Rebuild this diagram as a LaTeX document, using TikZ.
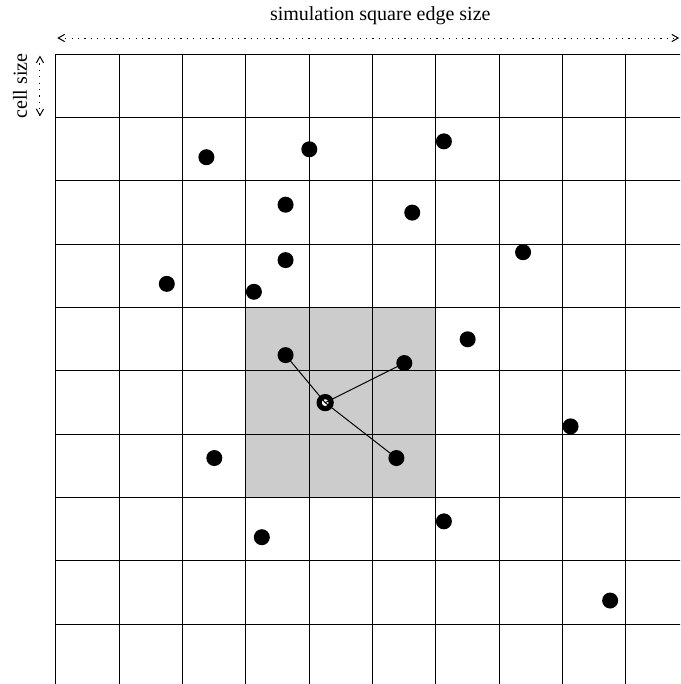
\documentclass[tikz,border=0pt]{standalone}
\usepackage{fontspec}
\setmainfont{Liberation Serif}
\usetikzlibrary{arrows.meta}
\definecolor{cellgray}{HTML}{CCCCCC}
\tikzset{
  particle/.style={circle,fill=black,inner sep=0pt,minimum size=8pt},
  probe/.style={circle,draw=black,line width=2.6pt,fill=white,inner sep=0pt,minimum size=6pt},
  dimline/.style={line width=0.5pt,dash pattern=on 0.6pt off 2.6pt,
    {Straight Barb[length=3.2pt,width=3.6pt]}-{Straight Barb[length=3.2pt,width=3.6pt]}},
  bond/.style={line width=0.5pt}
}
\begin{document}
\begin{tikzpicture}[x=31.667pt,y=-31.667pt]
\clip (-0.884,-0.857) rectangle (9.853,9.943);
% neighbourhood of the probe cell
\fill[cellgray] (3,4) rectangle (6,7);
\foreach \i in {0,...,10}{
  \draw[line width=0.5pt] (\i,0) -- (\i,10);
  \draw[line width=0.5pt] (0,\i) -- (10,\i);
}
% dimensions
\coordinate (edgeL) at (0.02,-0.257);
\coordinate (edgeR) at (9.84,-0.257);
\draw[dimline] (edgeL) -- (edgeR);
\node (edgelabel) at (5.12,-0.605) {simulation square edge size};
\coordinate (cellT) at (-0.253,0.02);
\coordinate (cellB) at (-0.253,0.98);
\draw[dimline] (cellT) -- (cellB);
\node[rotate=90] (celllabel) at (-0.568,0.5) {cell size};
% particles
\foreach \n/\x/\y in {1/2.375/1.625,2/4/1.5,3/6.125/1.375,4/3.625/2.375,5/5.625/2.5,
  6/7.375/3.125,7/3.625/3.25,8/1.75/3.625,9/3.125/3.75,10/6.5/4.5,11/3.625/4.75,
  12/5.5/4.875,14/8.125/5.875,15/2.5/6.375,16/5.375/6.375,17/6.125/7.375,
  18/3.25/7.625,19/8.75/8.625}{
  \node[particle] (p\n) at (\x,\y) {};
}
\node[probe] (c) at (4.25,5.5) {};
\foreach \n in {11,12,16}{
  \draw[bond] (c.center) -- (p\n.center);
}
\end{tikzpicture}
\end{document}
